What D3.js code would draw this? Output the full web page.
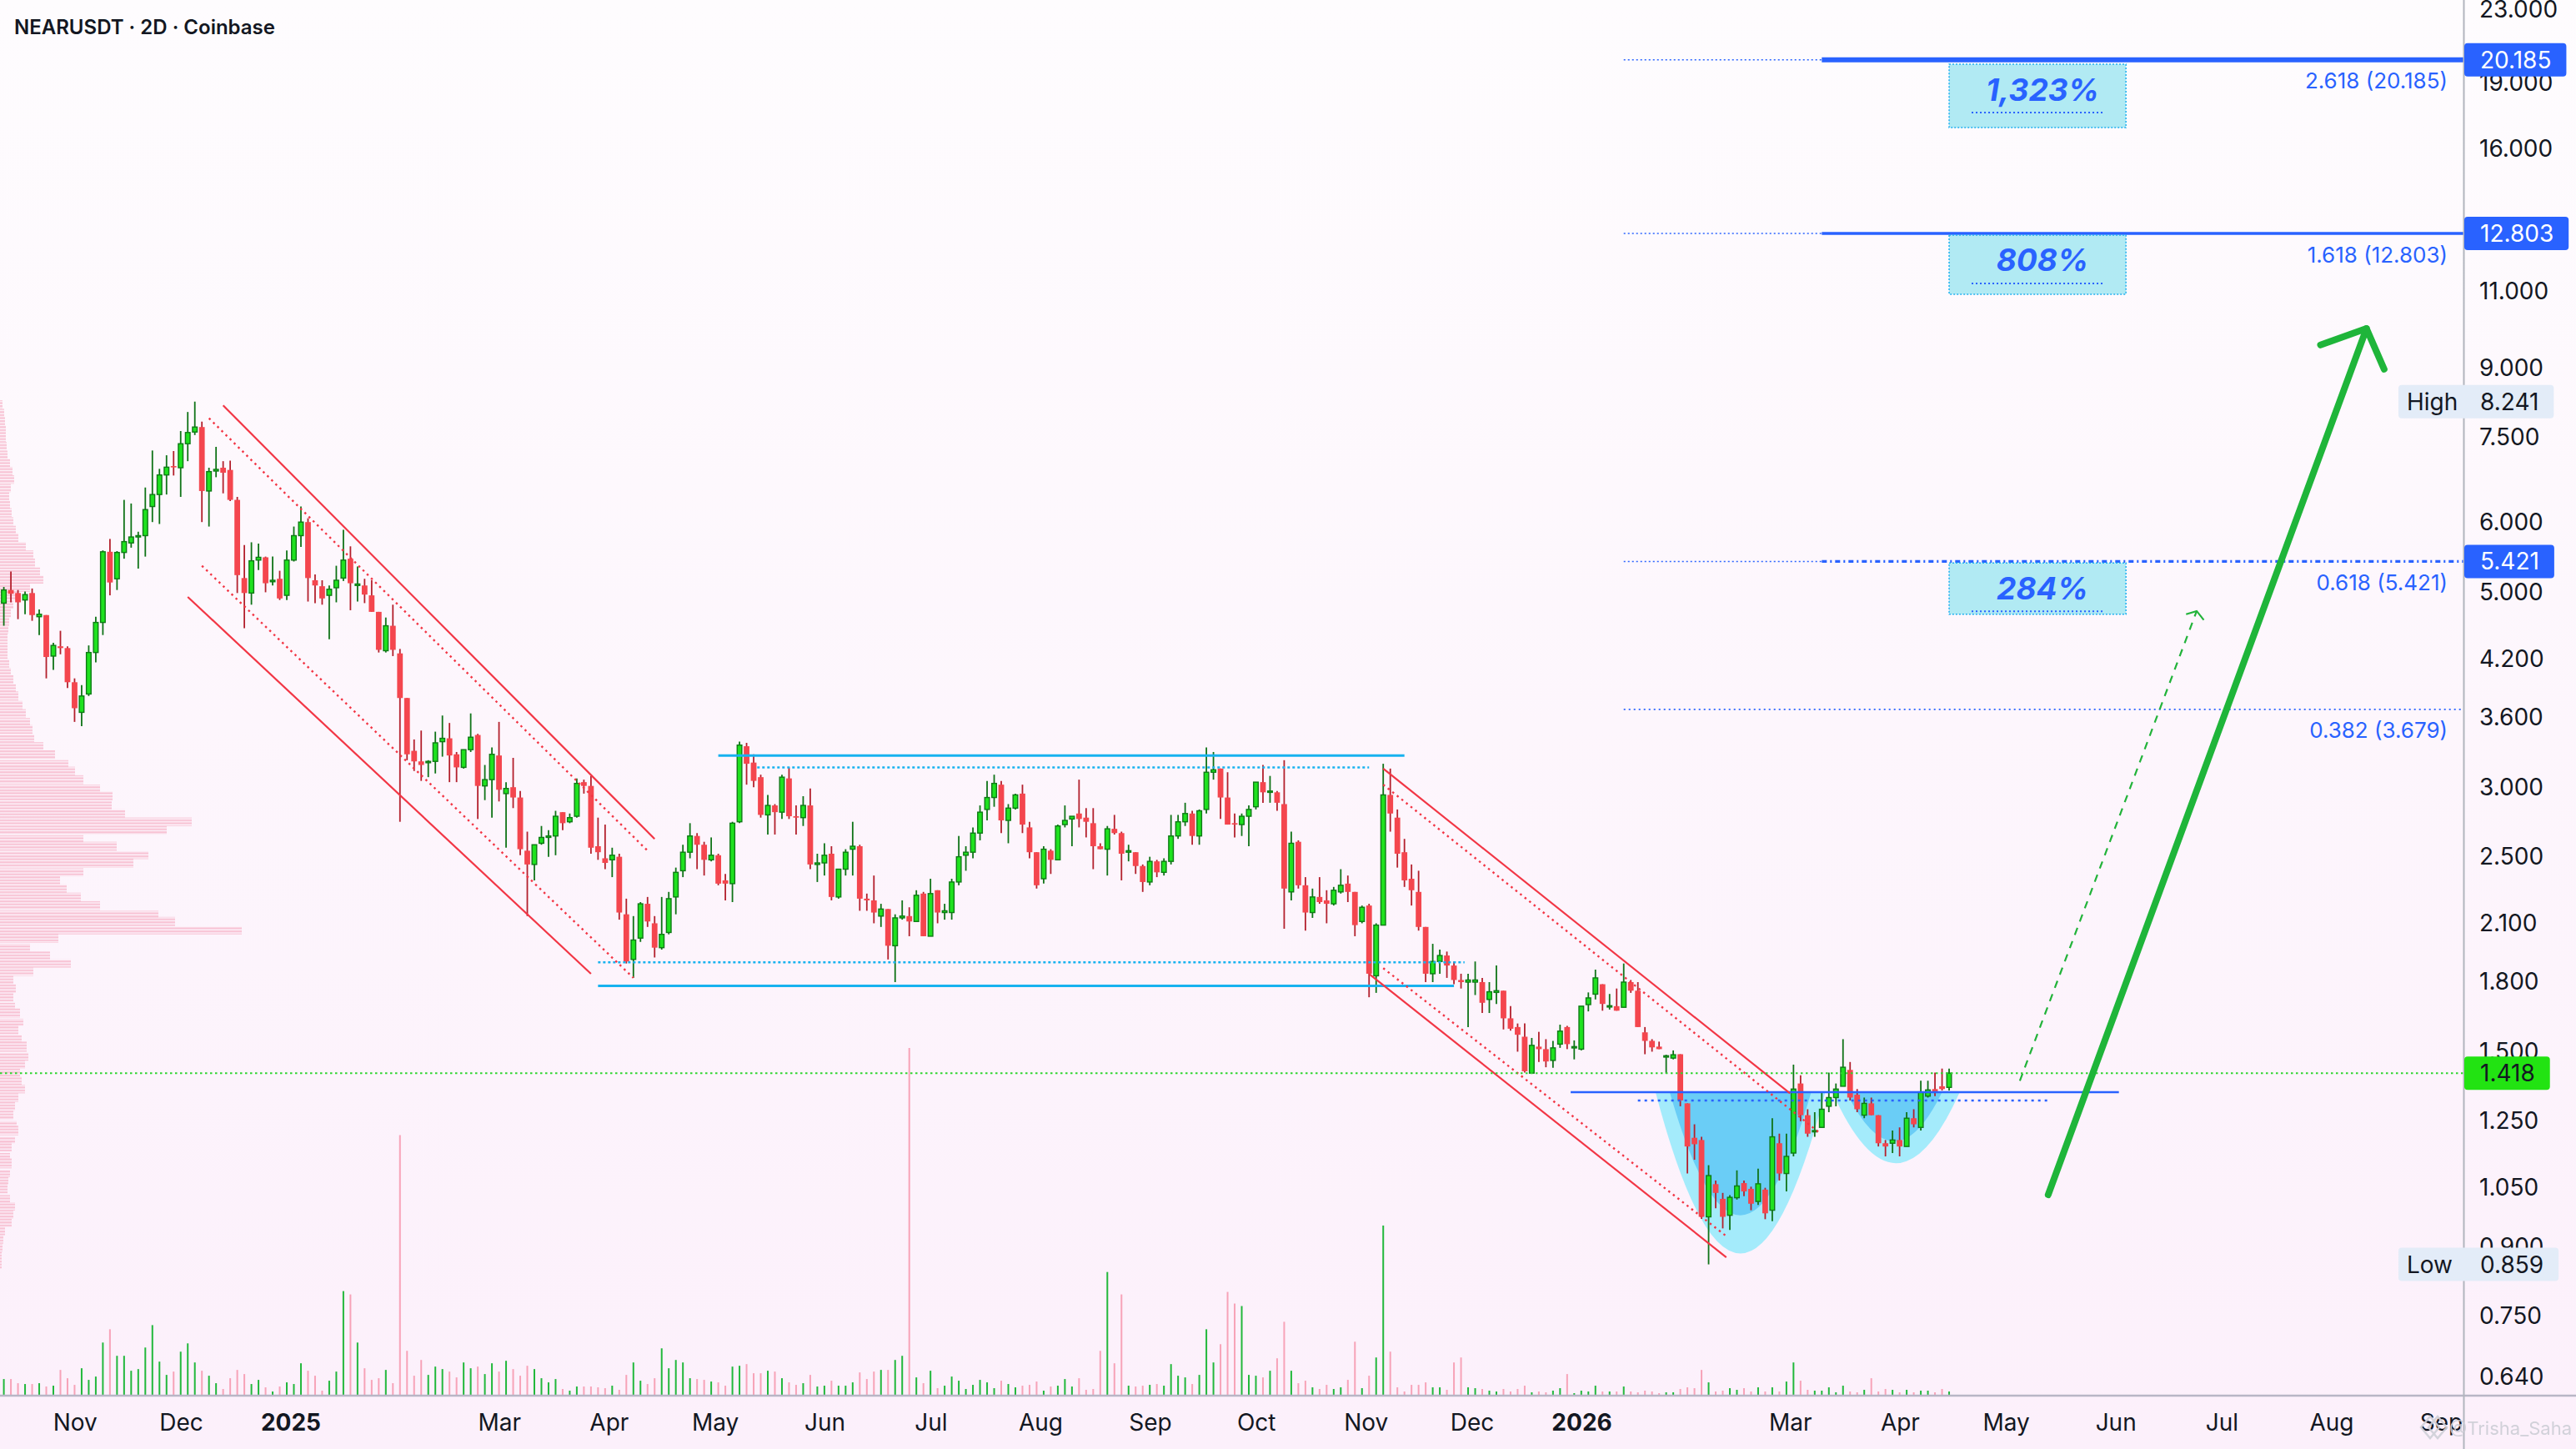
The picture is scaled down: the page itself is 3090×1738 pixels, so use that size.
<!DOCTYPE html>
<html>
<head>
<meta charset="utf-8">
<script src="https://cdn.jsdelivr.net/npm/d3@7/dist/d3.min.js"></script>
<style>
  html, body { margin:0; padding:0; background:#fdf5fc; }
  svg { display:block; }
</style>
</head>
<body>
<svg id="chart" width="3090" height="1738" xmlns="http://www.w3.org/2000/svg"></svg>
<script>
// ================= DATA =================
const title = "NEARUSDT · 2D · Coinbase";
const firstCandleDate = "2024-10-11";
const candleStepDays = 2;
// [open, high, low, close] per 2D candle
const candles = [
[4.86,5.07,4.58,5.03],[5.03,5.28,4.87,4.98],[4.99,5.03,4.66,4.87],[4.90,5.01,4.72,4.97],[4.99,5.05,4.64,4.71],
[4.69,4.78,4.47,4.72],[4.71,4.71,3.99,4.22],[4.23,4.38,4.08,4.35],[4.34,4.52,4.25,4.32],[4.32,4.34,3.89,3.95],
[3.95,3.99,3.56,3.69],[3.65,3.92,3.52,3.81],[3.83,4.35,3.81,4.27],[4.27,4.69,4.16,4.62],[4.62,5.58,4.47,5.56],
[5.56,5.75,4.96,5.13],[5.18,5.57,5.03,5.55],[5.55,6.37,5.46,5.71],[5.69,6.31,5.62,5.78],[5.79,5.86,5.32,5.80],
[5.80,6.58,5.49,6.21],[6.26,7.25,6.01,6.46],[6.46,6.91,5.98,6.80],[6.80,7.16,6.46,6.94],[6.96,7.24,6.79,6.94],
[6.93,7.63,6.42,7.38],[7.38,8.02,7.05,7.60],[7.61,8.241,7.55,7.71],[7.71,7.82,6.01,6.52],[6.52,6.93,5.94,6.86],
[6.87,7.32,6.76,6.90],[6.93,7.05,6.48,6.84],[6.89,7.06,6.35,6.37],[6.37,6.42,4.99,5.23],[5.19,5.66,4.55,4.99],
[4.99,5.70,4.84,5.43],[5.44,5.68,5.30,5.48],[5.48,5.49,5.00,5.12],[5.14,5.49,5.09,5.16],[5.18,5.29,4.90,4.92],
[4.96,5.58,4.90,5.44],[5.44,5.94,5.42,5.80],[5.80,6.26,5.63,6.01],[6.01,6.07,4.88,5.19],[5.16,5.24,4.86,5.09],
[5.08,5.16,4.84,4.92],[4.96,5.09,4.42,5.04],[5.06,5.36,4.87,5.16],[5.19,5.89,5.15,5.44],[5.46,5.64,4.77,5.12],
[5.09,5.35,4.88,5.11],[5.09,5.18,4.86,4.97],[4.96,5.16,4.75,4.75],[4.75,4.75,4.27,4.30],[4.29,4.68,4.27,4.58],
[4.58,4.84,4.23,4.30],[4.26,4.31,2.74,3.79],[3.79,3.79,3.22,3.27],[3.30,3.40,3.13,3.21],[3.21,3.48,3.05,3.18],
[3.20,3.22,3.08,3.21],[3.21,3.47,3.11,3.37],[3.38,3.62,3.25,3.41],[3.41,3.55,3.04,3.26],[3.27,3.29,3.04,3.16],
[3.16,3.31,3.15,3.31],[3.31,3.64,3.29,3.42],[3.44,3.45,2.76,3.01],[3.01,3.18,2.90,3.06],[3.06,3.33,2.77,3.27],
[3.26,3.56,2.89,2.98],[2.95,3.04,2.56,2.99],[3.00,3.24,2.84,2.92],[2.92,2.97,2.51,2.55],[2.54,2.67,2.14,2.45],
[2.45,2.58,2.35,2.58],[2.59,2.71,2.58,2.63],[2.63,2.68,2.50,2.64],[2.64,2.82,2.51,2.78],[2.81,2.81,2.68,2.73],
[2.74,2.80,2.73,2.77],[2.78,3.07,2.77,3.03],[3.04,3.06,2.95,3.01],[3.01,3.09,2.52,2.56],[2.57,2.77,2.48,2.53],
[2.49,2.72,2.42,2.46],[2.48,2.56,2.37,2.51],[2.50,2.52,2.12,2.16],[2.15,2.24,1.89,1.90],[1.91,2.14,1.82,2.01],
[2.02,2.22,2.00,2.21],[2.21,2.25,2.08,2.11],[2.10,2.14,1.92,1.97],[1.97,2.25,1.96,2.04],
[2.05,2.28,2.04,2.24],[2.25,2.43,2.15,2.40],[2.41,2.58,2.37,2.53],[2.53,2.73,2.49,2.64],[2.64,2.66,2.42,2.58],
[2.58,2.60,2.38,2.48],[2.48,2.63,2.47,2.51],[2.51,2.52,2.32,2.33],[2.35,2.39,2.23,2.33],[2.33,2.74,2.22,2.73],
[2.74,3.38,2.73,3.35],[3.34,3.37,3.02,3.19],[3.20,3.27,3.00,3.05],[3.08,3.10,2.77,2.79],[2.79,2.94,2.65,2.86],
[2.86,2.87,2.65,2.81],[2.81,3.10,2.76,3.08],[3.07,3.16,2.76,2.78],[2.78,2.86,2.65,2.77],[2.77,2.93,2.71,2.86],
[2.86,2.99,2.42,2.45],[2.45,2.52,2.34,2.46],[2.46,2.59,2.38,2.51],[2.52,2.57,2.23,2.25],[2.25,2.42,2.24,2.42],
[2.42,2.55,2.38,2.53],[2.55,2.74,2.38,2.57],[2.57,2.58,2.17,2.24],[2.24,2.27,2.17,2.23],[2.23,2.38,2.10,2.16],
[2.14,2.21,2.08,2.18],[2.18,2.18,1.91,1.98],[1.98,2.15,1.80,2.13],[2.13,2.23,2.12,2.14],[2.14,2.19,2.03,2.11],
[2.11,2.29,2.11,2.26],[2.27,2.28,2.03,2.03],[2.03,2.36,2.03,2.27],[2.29,2.29,2.10,2.16],[2.16,2.21,2.12,2.17],
[2.16,2.36,2.12,2.34],[2.34,2.64,2.32,2.50],[2.51,2.57,2.41,2.53],[2.53,2.70,2.49,2.66],[2.66,2.86,2.61,2.81],
[2.83,3.05,2.75,2.92],[2.92,3.10,2.85,3.03],[3.02,3.05,2.66,2.75],[2.75,2.87,2.59,2.84],[2.84,2.95,2.83,2.94],
[2.95,3.02,2.66,2.72],[2.70,2.74,2.49,2.53],[2.53,2.53,2.30,2.32],[2.36,2.57,2.33,2.55],[2.54,2.55,2.39,2.48],
[2.48,2.72,2.48,2.71],[2.72,2.86,2.70,2.75],[2.76,2.78,2.57,2.78],[2.80,3.06,2.70,2.76],[2.77,2.84,2.63,2.74],
[2.73,2.84,2.42,2.57],[2.57,2.59,2.55,2.55],[2.55,2.71,2.38,2.69],[2.69,2.79,2.65,2.66],[2.66,2.67,2.35,2.52],
[2.53,2.58,2.47,2.54],[2.53,2.53,2.39,2.44],[2.44,2.45,2.28,2.34],[2.34,2.50,2.32,2.47],[2.47,2.48,2.37,2.40],
[2.40,2.49,2.38,2.47],[2.47,2.79,2.45,2.64],[2.64,2.79,2.62,2.74],[2.74,2.88,2.71,2.80],[2.80,2.82,2.58,2.64],
[2.64,2.83,2.58,2.82],[2.83,3.33,2.80,3.12],[3.12,3.29,3.06,3.14],[3.15,3.15,2.76,2.92],[2.92,3.12,2.72,2.72],
[2.73,2.80,2.63,2.72],[2.72,2.80,2.64,2.78],[2.78,2.86,2.57,2.83],[2.85,3.04,2.83,3.04],[3.04,3.18,2.88,2.96],
[2.96,3.09,2.88,2.97],[2.96,2.97,2.82,2.88],[2.87,3.22,2.07,2.30],[2.28,2.67,2.23,2.59],[2.60,2.61,2.30,2.32],
[2.32,2.37,2.06,2.16],[2.16,2.30,2.13,2.25],[2.25,2.37,2.21,2.22],[2.23,2.29,2.10,2.21],[2.21,2.31,2.20,2.29],
[2.28,2.42,2.27,2.32],[2.33,2.38,2.22,2.28],[2.28,2.28,2.03,2.09],[2.11,2.20,2.10,2.19],[2.20,2.21,1.73,1.84],
[1.83,2.10,1.75,2.09],[2.09,3.19,2.09,2.94],[2.94,3.15,2.67,2.80],[2.77,2.83,2.43,2.52],[2.53,2.62,2.31,2.35],
[2.36,2.45,2.20,2.29],
[2.28,2.41,2.06,2.08],[2.08,2.08,1.80,1.84],[1.84,1.99,1.80,1.90],[1.90,1.96,1.84,1.93],[1.93,1.95,1.82,1.88],
[1.88,1.90,1.79,1.81],[1.81,1.84,1.77,1.80],[1.80,1.84,1.60,1.81],[1.80,1.90,1.74,1.81],[1.80,1.82,1.66,1.705],
[1.72,1.80,1.66,1.755],[1.752,1.88,1.70,1.76],[1.76,1.76,1.59,1.637],[1.637,1.69,1.585,1.593],[1.60,1.615,1.50,1.568],
[1.56,1.615,1.42,1.425],[1.418,1.555,1.418,1.525],[1.52,1.58,1.46,1.51],[1.51,1.55,1.44,1.462],[1.466,1.543,1.438,1.515],
[1.53,1.61,1.515,1.583],[1.60,1.605,1.51,1.53],[1.515,1.545,1.47,1.52],[1.51,1.69,1.505,1.69],[1.697,1.752,1.667,1.727],
[1.744,1.86,1.72,1.82],[1.79,1.79,1.67,1.70],[1.688,1.745,1.675,1.692],[1.69,1.77,1.67,1.67],[1.685,1.89,1.685,1.80],
[1.80,1.81,1.75,1.76],[1.76,1.80,1.60,1.60],[1.578,1.60,1.49,1.543],[1.543,1.55,1.50,1.517],[1.52,1.54,1.51,1.51],
[1.48,1.488,1.416,1.484],[1.475,1.505,1.47,1.488],[1.49,1.49,1.30,1.32],[1.31,1.31,1.09,1.17],[1.197,1.24,1.13,1.177],
[1.19,1.20,0.968,0.973],[0.973,1.114,0.859,1.084],[1.06,1.07,0.995,1.036],[1.02,1.036,0.944,0.973],[0.977,1.03,0.94,1.024],
[1.023,1.099,1.018,1.055],[1.063,1.07,1.027,1.04],[1.047,1.053,0.99,1.007],[1.013,1.104,1.004,1.061],[1.045,1.05,0.967,0.982],
[0.99,1.26,0.962,1.20],[1.18,1.21,1.07,1.09],[1.09,1.21,1.04,1.14],[1.15,1.45,1.14,1.36],[1.38,1.41,1.25,1.27],
[1.27,1.29,1.20,1.21],[1.22,1.28,1.20,1.22],[1.23,1.35,1.23,1.29],[1.30,1.42,1.28,1.33],[1.33,1.38,1.30,1.36],
[1.37,1.55,1.37,1.44],[1.43,1.46,1.32,1.33],[1.34,1.36,1.28,1.29],[1.27,1.33,1.26,1.31],[1.31,1.33,1.27,1.27],
[1.27,1.27,1.17,1.18],[1.18,1.19,1.14,1.17],[1.18,1.22,1.15,1.19],[1.19,1.23,1.14,1.17],[1.17,1.28,1.17,1.26],
[1.26,1.29,1.23,1.24],[1.23,1.39,1.22,1.35],[1.335,1.39,1.33,1.357],[1.36,1.42,1.335,1.35],[1.37,1.435,1.355,1.36],
[1.366,1.435,1.355,1.418]
];
// volume per candle (relative units)
const volumes = [
19,19,14,13,13,14,10,11,30,20, 12,32,18,22,63,79,47,47,29,31,
57,84,40,24,28,52,62,39,29,23, 14,7,20,30,25,13,18,9,4,10,
15,13,38,29,23,5,17,28,125,121, 63,32,18,20,30,14,313,53,23,42,
24,34,31,28,21,39,32,34,25,38, 28,41,31,23,35,31,20,15,19,7,
5,10,10,10,9,8,11,6,24,39, 17,13,20,56,32,42,39,20,19,18,
16,15,11,34,35,37,26,26,29,28, 20,15,12,14,24,10,11,17,11,11,
15,27,19,28,30,30,42,47,418,21, 14,29,8,11,22,17,7,12,18,15,
8,17,13,9,11,12,16,5,10,11, 19,10,20,6,7,53,148,38,121,11,
10,11,12,13,11,37,23,21,13,24, 79,39,61,124,110,107,24,23,21,29,
44,88,29,14,17,9,7,12,7,9, 18,64,8,23,45,204,52,9,4,12,
12,15,9,9,6,39,45,9,8,7, 5,4,7,4,7,11,3,4,3,5,
8,25,2,5,4,11,4,4,4,10, 4,3,5,4,2,3,3,7,9,8,
30,15,4,5,8,6,8,4,9,4, 9,4,16,39,17,6,5,5,9,3,
11,4,3,6,20,4,7,6,3,6, 3,5,5,3,7,4
];
const priceTicks = [23,19,16,11,9,7.5,6,5,4.2,3.6,3,2.5,2.1,1.8,1.5,1.25,1.05,0.9,0.75,0.64];
const timeTicks = [
["2024-11-01","Nov"],["2024-12-01","Dec"],["2025-01-01","2025"],["2025-03-01","Mar"],["2025-04-01","Apr"],
["2025-05-01","May"],["2025-06-01","Jun"],["2025-07-01","Jul"],["2025-08-01","Aug"],["2025-09-01","Sep"],
["2025-10-01","Oct"],["2025-11-01","Nov"],["2025-12-01","Dec"],["2026-01-01","2026"],["2026-03-01","Mar"],
["2026-04-01","Apr"],["2026-05-01","May"],["2026-06-01","Jun"],["2026-07-01","Jul"],["2026-08-01","Aug"],
["2026-09-01","Sep"]
];
// visible-range volume profile (price row -> volume)
const profilePrices = [8.18,8.00,7.83,7.66,7.50,7.33,7.17,7.02,6.87,6.72,6.57,6.43,6.29,6.16,6.02,5.89,5.77,5.64,5.52,5.40,
5.28,5.17,5.06,4.95,4.84,4.74,4.63,4.53,4.44,4.34,4.25,4.15,4.06,3.98,3.89,3.81,3.72,3.64,3.56,3.49,
3.41,3.34,3.27,3.19,3.13,3.06,2.99,2.93,2.86,2.80,2.74,2.68,2.62,2.57,2.51,2.46,2.40,2.35,2.30,2.25,
2.20,2.15,2.11,2.06,2.02,1.97,1.93,1.89,1.85,1.81,1.77,1.73,1.69,1.66,1.62,1.59,1.55,1.52,1.48,1.45,
1.42,1.39,1.36,1.33,1.30,1.27,1.24,1.22,1.19,1.17,1.14,1.12,1.09,1.07,1.05,1.02,1.00,0.979,0.958,0.937,
0.917,0.897,0.878,0.859];
const profileVolumes = [3,5,6,7,7,8,9,12,15,17, 13,11,12,14,16,19,22,31,40,42,
48,52,36,22,16,13,11,10,9,9, 9,11,13,16,19,22,27,31,36,39,
41,52,66,82,90,100,120,135,134,150, 230,200,100,140,178,160,100,72,80,97,
120,190,210,290,70,36,60,85,40,16, 19,16,18,24,28,22,26,32,34,30,
24,26,30,22,18,16,20,22,18,14, 12,14,12,10,9,12,18,16,14,6,
4,3,2,2];
const lastPrice = 1.418;
const fibRatios = ["2.618","1.618","0.618","0.382"];
const fibPrices = [20.185,12.803,5.421,3.679];
const fibStartDate = "2026-01-12";
const fibSolidDate = "2026-03-09";
const fibGhostDate = "2025-11-12";
const targetLabels = ["1,323%","808%","284%"];
const targetTops = [19.95,12.75,5.40];
const targetBottoms = [16.90,10.92,4.72];
const targetDates = ["2026-04-14","2026-06-03"];
// descending channels: [[date, price],[date, price]]
const channelSolid = [
 [["2024-12-12",8.16],["2025-04-13",2.62]],
 [["2024-12-02",4.94],["2025-03-26",1.84]],
 [["2025-11-05",3.15],["2026-02-28",1.345]],
 [["2025-11-01",1.839],["2026-02-10",0.875]]
];
const channelDotted = [
 [["2024-12-08",7.89],["2025-04-11",2.54]],
 [["2024-12-06",5.36],["2025-04-07",1.82]],
 [["2025-11-05",3.02],["2026-03-08",1.216]],
 [["2025-11-05",1.867],["2026-02-10",0.925]]
];
// horizontal range lines: [startDate, endDate, price]
const rangeSolid = [["2025-05-01","2025-11-11",3.26],["2025-03-28","2025-11-25",1.782]];
const rangeDotted = [["2025-05-12","2025-11-01",3.16],["2025-03-28","2025-11-28",1.896]];
const necklineSolid = [["2025-12-28","2026-06-01",1.349]];
const necklineDotted = [["2026-01-16","2026-05-12",1.32]];
// cup shapes: [leftDate, rightDate, rimPrice, bottomPrice]
const cupOuter = [["2026-01-21","2026-03-10",1.349,0.884],["2026-03-12","2026-04-17",1.349,1.120]];
const cupInner = [["2026-01-25","2026-03-06",1.349,0.977],["2026-03-16","2026-04-12",1.349,1.186]];
const bigArrow = [["2026-05-12",1.031],["2026-08-10",9.98]];
const bigArrowWings = [["2026-07-28",9.56],["2026-08-15",8.97]];
const dashArrow = [["2026-05-04",1.39],["2026-06-23",4.76]];
const dashArrowWings = [["2026-06-20",4.72],["2026-06-25",4.65]];
const watermark = "@Trisha_Saha";

// ================= DRAWING =================
const svg = d3.select("#chart");
const W = 3090, H = 1738, PR = 2955, PB = 1673;
const FONT = "Inter, 'Noto Sans', 'DejaVu Sans', sans-serif";
const DAY = 86400000;
const parse = s => new Date(s + "T00:00:00Z");
const d0 = parse(firstCandleDate);
const candleDate = i => new Date(d0.getTime() + i * candleStepDays * DAY);

const x = d3.scaleUtc().domain([d0, parse("2026-09-01")]).range([4.6, 2932]);
const y = d3.scaleLog().domain([0.6103, 23.61]).range([PB, 0]);
const yv = d3.scaleLinear().domain([0, 420]).range([PB, PB - 418]);
const xp = d3.scaleLinear().domain([0, 300]).range([0, 300]);
const P = ([d, p]) => [x(parse(d)), y(p)];

const defs = svg.append("defs");
const grad = defs.append("linearGradient").attr("id", "bg").attr("x1", 0).attr("y1", 0).attr("x2", 0).attr("y2", 1);
grad.append("stop").attr("offset", "0%").attr("stop-color", "#fefcfe");
grad.append("stop").attr("offset", "100%").attr("stop-color", "#fcf0fb");
defs.append("clipPath").attr("id", "plotClip").append("rect").attr("width", PR).attr("height", PB);
const pat = defs.append("pattern").attr("id", "vpLines").attr("patternUnits", "userSpaceOnUse")
  .attr("width", 8).attr("height", 3.6);
pat.append("rect").attr("width", 8).attr("height", 2.3).attr("fill", "#f8c4d5");
defs.append("filter").attr("id", "soft").append("feGaussianBlur").attr("stdDeviation", 2.5);

svg.append("rect").attr("width", W).attr("height", H).attr("fill", "url(#bg)");

const plot = svg.append("g").attr("clip-path", "url(#plotClip)");

// volume profile
const rowH = k => k < profilePrices.length - 1 ? Math.abs(y(profilePrices[k + 1]) - y(profilePrices[k])) : Math.abs(y(profilePrices[k]) - y(profilePrices[k - 1]));
plot.append("g").selectAll("rect").data(profilePrices).join("rect")
  .attr("x", 0)
  .attr("y", (p, k) => y(p) - rowH(k) / 2)
  .attr("height", (p, k) => rowH(k))
  .attr("width", (p, k) => xp(profileVolumes[k]))
  .attr("fill", "url(#vpLines)");

// volume bars
plot.append("g").selectAll("rect").data(volumes).join("rect")
  .attr("x", (v, i) => x(candleDate(i)) - 1)
  .attr("width", 2)
  .attr("y", v => yv(v))
  .attr("height", v => PB - yv(v))
  .attr("fill", (v, i) => candles[i][3] >= candles[i][0] ? "#22b83c" : "#f7a3b8");

// cups
function cupPath(c) {
  const xl = x(parse(c[0])), xr = x(parse(c[1])), yt = y(c[2]), yb = y(c[3]);
  const xm = (xl + xr) / 2;
  return `M${xl},${yt} Q${xm},${2 * yb - yt} ${xr},${yt} Z`;
}
plot.append("g").selectAll("path").data(cupOuter).join("path").attr("d", cupPath).attr("fill", "#a4ebfb");
plot.append("g").selectAll("path").data(cupInner).join("path").attr("d", cupPath).attr("fill", "#6acdf6");

// candles
const cg = plot.append("g");
const cs = cg.selectAll("g").data(candles).join("g");
cs.append("line")
  .attr("x1", (d, i) => x(candleDate(i))).attr("x2", (d, i) => x(candleDate(i)))
  .attr("y1", d => y(d[1])).attr("y2", d => y(d[2]))
  .attr("stroke", d => d[3] >= d[0] ? "#0f7317" : "#b3202d").attr("stroke-width", 1.8);
cs.append("rect")
  .attr("x", (d, i) => x(candleDate(i)) - (d[3] >= d[0] ? 2.8 : 3.4))
  .attr("width", d => d[3] >= d[0] ? 5.6 : 6.8)
  .attr("y", d => y(Math.max(d[0], d[3])))
  .attr("height", d => Math.max(1.6, y(Math.min(d[0], d[3])) - y(Math.max(d[0], d[3]))))
  .attr("fill", d => d[3] >= d[0] ? "#1fe21f" : "#f4464e")
  .attr("stroke", d => d[3] >= d[0] ? "#0e7a15" : "none")
  .attr("stroke-width", 1.4);

// horizontal range lines
const hl = plot.append("g");
hl.selectAll(".rs").data(rangeSolid).join("line")
  .attr("x1", d => x(parse(d[0]))).attr("x2", d => x(parse(d[1])))
  .attr("y1", d => y(d[2])).attr("y2", d => y(d[2]))
  .attr("stroke", "#17b2ef").attr("stroke-width", 3);
hl.selectAll(".rd").data(rangeDotted).join("line")
  .attr("x1", d => x(parse(d[0]))).attr("x2", d => x(parse(d[1])))
  .attr("y1", d => y(d[2])).attr("y2", d => y(d[2]))
  .attr("stroke", "#17b2ef").attr("stroke-width", 2.5).attr("stroke-dasharray", "3,3");
hl.selectAll(".ns").data(necklineSolid).join("line")
  .attr("x1", d => x(parse(d[0]))).attr("x2", d => x(parse(d[1])))
  .attr("y1", d => y(d[2])).attr("y2", d => y(d[2]))
  .attr("stroke", "#2962ff").attr("stroke-width", 2.5);
hl.selectAll(".nd").data(necklineDotted).join("line")
  .attr("x1", d => x(parse(d[0]))).attr("x2", d => x(parse(d[1])))
  .attr("y1", d => y(d[2])).attr("y2", d => y(d[2]))
  .attr("stroke", "#2962ff").attr("stroke-width", 2.5).attr("stroke-dasharray", "3,5");

// channels
const ch = plot.append("g");
ch.selectAll(".cs").data(channelSolid).join("line")
  .attr("x1", d => P(d[0])[0]).attr("y1", d => P(d[0])[1])
  .attr("x2", d => P(d[1])[0]).attr("y2", d => P(d[1])[1])
  .attr("stroke", "#f23645").attr("stroke-width", 2.2);
ch.selectAll(".cd").data(channelDotted).join("line")
  .attr("x1", d => P(d[0])[0]).attr("y1", d => P(d[0])[1])
  .attr("x2", d => P(d[1])[0]).attr("y2", d => P(d[1])[1])
  .attr("stroke", "#f23645").attr("stroke-width", 2.4).attr("stroke-dasharray", "2.5,4.5");

// last price line
plot.append("line").attr("x1", 0).attr("x2", PR).attr("y1", y(lastPrice)).attr("y2", y(lastPrice))
  .attr("stroke", "#2fd52f").attr("stroke-width", 2).attr("stroke-dasharray", "2.5,3.5");

// fib levels
const fg = plot.append("g");
const xFib0 = x(parse(fibStartDate)), xFib1 = x(parse(fibSolidDate));
// faint ghost of the 0.382 level
fg.append("line").attr("x1", x(parse(fibGhostDate))).attr("x2", xFib0).attr("y1", y(fibPrices[3])).attr("y2", y(fibPrices[3]))
  .attr("stroke", "#b9bccb").attr("stroke-width", 5).attr("opacity", 0.35).attr("filter", "url(#soft)");
fibPrices.forEach((p, k) => {
  const yy = y(p);
  if (k < 2) {
    fg.append("line").attr("x1", xFib0).attr("x2", xFib1).attr("y1", yy).attr("y2", yy)
      .attr("stroke", "#2962ff").attr("stroke-width", 1.5).attr("stroke-dasharray", "2,3");
    fg.append("line").attr("x1", xFib1).attr("x2", PR).attr("y1", yy).attr("y2", yy)
      .attr("stroke", "#2962ff").attr("stroke-width", k === 0 ? 6 : 3.5);
  } else if (k === 2) {
    fg.append("line").attr("x1", xFib0).attr("x2", xFib1).attr("y1", yy).attr("y2", yy)
      .attr("stroke", "#2962ff").attr("stroke-width", 1.5).attr("stroke-dasharray", "2,3");
    fg.append("line").attr("x1", xFib1).attr("x2", PR).attr("y1", yy).attr("y2", yy)
      .attr("stroke", "#2962ff").attr("stroke-width", 3.2).attr("stroke-dasharray", "6,4,2,4");
  } else {
    fg.append("line").attr("x1", xFib0).attr("x2", PR).attr("y1", yy).attr("y2", yy)
      .attr("stroke", "#2962ff").attr("stroke-width", 1.8).attr("stroke-dasharray", "2,4");
  }
  fg.append("text").attr("x", 2936).attr("y", yy + 25).attr("text-anchor", "end")
    .attr("dominant-baseline", "central").attr("font-family", FONT).attr("font-size", 26)
    .attr("fill", "#2962ff").text(`${fibRatios[k]} (${p.toFixed(3)})`);
});

// target boxes
const tb = plot.append("g");
const bx0 = x(parse(targetDates[0])), bx1 = x(parse(targetDates[1]));
targetLabels.forEach((lab, k) => {
  const t = y(targetTops[k]), b = y(targetBottoms[k]);
  tb.append("rect").attr("x", bx0).attr("y", t).attr("width", bx1 - bx0).attr("height", b - t)
    .attr("fill", "#b1eaf3").attr("stroke", "#1fb0f0").attr("stroke-width", 1.5).attr("stroke-dasharray", "2,2");
  tb.append("text").attr("x", (bx0 + bx1) / 2 + 6).attr("y", t + 30).attr("text-anchor", "middle")
    .attr("dominant-baseline", "central").attr("font-family", FONT).attr("font-size", 37)
    .attr("font-weight", 700).attr("font-style", "italic").attr("fill", "#2962ff").text(lab);
  tb.append("line").attr("x1", bx0 + 27).attr("x2", bx1 - 28).attr("y1", t + 58).attr("y2", t + 58)
    .attr("stroke", "#2962ff").attr("stroke-width", 2).attr("stroke-dasharray", "2,3");
});

// arrows
const ag = plot.append("g");
const a0 = P(bigArrow[0]), a1 = P(bigArrow[1]);
ag.append("line").attr("x1", a0[0]).attr("y1", a0[1]).attr("x2", a1[0]).attr("y2", a1[1])
  .attr("stroke", "#1fb53a").attr("stroke-width", 8).attr("stroke-linecap", "round");
ag.append("polyline").attr("points", [P(bigArrowWings[0]), a1, P(bigArrowWings[1])].map(p => p.join(",")).join(" "))
  .attr("fill", "none").attr("stroke", "#1fb53a").attr("stroke-width", 8).attr("stroke-linecap", "round").attr("stroke-linejoin", "round");
const b0 = P(dashArrow[0]), b1 = P(dashArrow[1]);
ag.append("line").attr("x1", b0[0]).attr("y1", b0[1]).attr("x2", b1[0]).attr("y2", b1[1])
  .attr("stroke", "#22b33a").attr("stroke-width", 2.2).attr("stroke-dasharray", "9,8");
ag.append("polyline").attr("points", [P(dashArrowWings[0]), b1, P(dashArrowWings[1])].map(p => p.join(",")).join(" "))
  .attr("fill", "none").attr("stroke", "#22b33a").attr("stroke-width", 2.2);

// separators
svg.append("line").attr("x1", 0).attr("x2", W).attr("y1", PB + 1).attr("y2", PB + 1).attr("stroke", "#b8b6c6").attr("stroke-width", 2.5);
svg.append("line").attr("x1", PR + 0.5).attr("x2", PR + 0.5).attr("y1", 0).attr("y2", H).attr("stroke", "#b2b5be").attr("stroke-width", 2);

// price axis
const yAx = svg.append("g").attr("transform", `translate(${PR + 1},0)`)
  .call(d3.axisRight(y).tickValues(priceTicks).tickFormat(d3.format(".3f")).tickSize(0).tickPadding(18));
yAx.select(".domain").remove();
yAx.selectAll("text").attr("font-size", 28).attr("font-family", FONT).attr("fill", "#131722");

// time axis
const xAx = svg.append("g").attr("transform", `translate(0,${PB})`)
  .call(d3.axisBottom(x).tickValues(timeTicks.map(t => parse(t[0]))).tickFormat((d, i) => timeTicks[i][1]).tickSize(0).tickPadding(23));
xAx.select(".domain").remove();
xAx.selectAll("text").attr("font-size", 28).attr("font-family", FONT).attr("fill", "#131722").attr("x", -4)
  .attr("font-weight", (d, i) => /^\d{4}$/.test(timeTicks[i][1]) ? 700 : 400);

// axis badges
function badge(price, txt, bg, fg, label) {
  const g = svg.append("g");
  const yy = y(price);
  const t = g.append("text").attr("x", PR + 20).attr("y", yy).attr("dominant-baseline", "central")
    .attr("font-family", FONT).attr("font-size", 28).attr("fill", fg).text(txt);
  const w = t.node().getComputedTextLength();
  let x0 = PR + 1;
  if (label) {
    g.append("text").attr("x", PR - 68).attr("y", yy).attr("dominant-baseline", "central")
      .attr("font-family", FONT).attr("font-size", 28).attr("fill", fg).text(label);
    x0 = PR - 78;
  }
  g.insert("rect", ":first-child").attr("x", x0).attr("y", yy - 20).attr("width", PR + 20 + w + 18 - x0).attr("height", 40)
    .attr("rx", 4).attr("fill", bg);
}
fibPrices.slice(0, 3).forEach(p => badge(p, p.toFixed(3), "#2962ff", "#ffffff"));
badge(lastPrice, lastPrice.toFixed(3), "#22e312", "#131722");
const hi = d3.max(candles, d => d[1]), lo = d3.min(candles, d => d[2]);
badge(hi, hi.toFixed(3), "#e3ecf8", "#131722", "High");
badge(lo, lo.toFixed(3), "#e3ecf8", "#131722", "Low");

// title
svg.append("text").attr("x", 17).attr("y", 32).attr("dominant-baseline", "central")
  .attr("font-family", FONT).attr("font-size", 24).attr("font-weight", 600).attr("fill", "#131722").text(title);

// watermark
const wm = svg.append("g").attr("opacity", 0.9);
wm.append("path").attr("d", "M2904,1712 l11,-13 l11,13 l-11,13 z M2913,1712 l11,-13 l11,13 l-11,13 z")
  .attr("fill", "none").attr("stroke", "#cfd0d8").attr("stroke-width", 2.5);
wm.append("text").attr("x", 2938).attr("y", 1713).attr("dominant-baseline", "central")
  .attr("font-family", FONT).attr("font-size", 22).attr("fill", "#cdced6").text(watermark);
</script>
</body>
</html>
